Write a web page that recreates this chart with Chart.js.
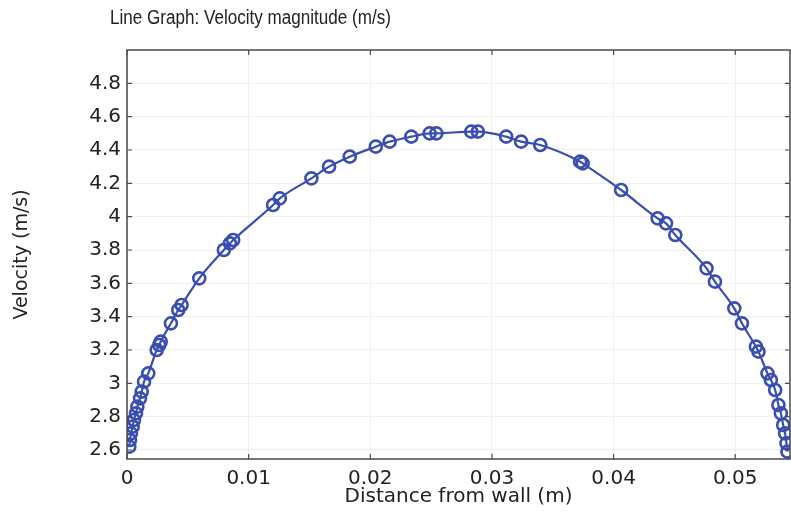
<!DOCTYPE html>
<html>
<head>
<meta charset="utf-8">
<script src="https://cdn.jsdelivr.net/npm/chart.js@4"></script>
<style>
  html, body { margin: 0; padding: 0; background: #fff; }
  #wrap { width: 791px; height: 514px; position: relative; }
</style>
</head>
<body>
<div id="wrap"><canvas id="velChart"></canvas></div>
<script>
// Velocity profile (distance in m, velocity in m/s)
const distance = [
  0.00019, 0.00025, 0.00033, 0.00047, 0.00057, 0.00074, 0.00085, 0.00107, 0.00121, 0.0014,
  0.00175, 0.00244, 0.00265, 0.00277, 0.00361, 0.00421, 0.00449, 0.00594, 0.00796, 0.00846,
  0.00873, 0.01201, 0.01256, 0.01516, 0.01661, 0.01831, 0.02045, 0.02159, 0.02337, 0.02488,
  0.02543, 0.0283, 0.02884, 0.03117, 0.0324, 0.03397, 0.03725, 0.03746, 0.04062, 0.04362,
  0.04431, 0.04507, 0.04764, 0.04833, 0.04992, 0.05055, 0.0517, 0.05191, 0.05265, 0.05293,
  0.05328, 0.05355, 0.05375, 0.05394, 0.0541, 0.05421, 0.05429
]
const velocity = [
  2.62, 2.66, 2.70, 2.74, 2.78, 2.82, 2.86, 2.91, 2.95, 3.01,
  3.06, 3.20, 3.23, 3.25, 3.36, 3.44, 3.47, 3.63, 3.80, 3.84,
  3.86, 4.07, 4.11, 4.23, 4.30, 4.36, 4.42, 4.45, 4.48, 4.50,
  4.50, 4.51, 4.51, 4.48, 4.45, 4.43, 4.33, 4.32, 4.16, 3.99,
  3.96, 3.89, 3.69, 3.61, 3.45, 3.36, 3.22, 3.19, 3.06, 3.02,
  2.96, 2.87, 2.82, 2.75, 2.70, 2.64, 2.59
]
const xTicks = [0, 0.01, 0.02, 0.03, 0.04, 0.05]
const yTicks = [2.6, 2.8, 3, 3.2, 3.4, 3.6, 3.8, 4, 4.2, 4.4, 4.6, 4.8]

const lineBlue = '#3a4db0'
const axisGray = '#4a4a4a'
const textColor = '#222'
const fontFamily = '"DejaVu Sans", Verdana, sans-serif'

// frame round the plot, short inward ticks and the graph title
const framePlugin = {
  id: 'frame',
  afterDraw(chart) {
    const { ctx, chartArea: a, scales } = chart
    ctx.save()
    ctx.strokeStyle = axisGray
    ctx.lineWidth = 1.5
    ctx.strokeRect(a.left, a.top, a.right - a.left, a.bottom - a.top)
    ctx.lineWidth = 1.2
    const len = 5
    scales.x.ticks.forEach(t => {
      const px = scales.x.getPixelForValue(t.value)
      ctx.beginPath()
      ctx.moveTo(px, a.bottom); ctx.lineTo(px, a.bottom - len)
      ctx.moveTo(px, a.top); ctx.lineTo(px, a.top + len)
      ctx.stroke()
    })
    scales.y.ticks.forEach(t => {
      const py = scales.y.getPixelForValue(t.value)
      ctx.beginPath()
      ctx.moveTo(a.left, py); ctx.lineTo(a.left + len, py)
      ctx.moveTo(a.right, py); ctx.lineTo(a.right - len, py)
      ctx.stroke()
    })

    // title, squeezed a little to the width of the original
    const title = 'Line Graph: Velocity magnitude (m/s)'
    ctx.font = '20px "Liberation Sans", Arial, sans-serif'
    ctx.fillStyle = textColor
    ctx.textBaseline = 'middle'
    const w = ctx.measureText(title).width
    ctx.translate(110, 18)
    ctx.scale(281 / w, 1)
    ctx.fillText(title, 0, 0)
    ctx.restore()
  }
}

const fmt = v => String(+Number(v).toFixed(3))

new Chart(document.getElementById('velChart'), {
  type: 'line',
  data: {
    datasets: [{
      label: 'Velocity magnitude',
      data: distance.map((d, i) => ({ x: d, y: velocity[i] })),
      borderColor: lineBlue,
      borderWidth: 2.2,
      cubicInterpolationMode: 'monotone',
      pointStyle: 'circle',
      pointRadius: 6,
      pointBorderWidth: 2.6,
      pointBackgroundColor: 'rgba(0,0,0,0)',
      pointBorderColor: lineBlue,
      fill: false
    }]
  },
  options: {
    responsive: true,
    maintainAspectRatio: false,
    animation: false,
    layout: { autoPadding: false, padding: { left: 0, right: 1, top: 50, bottom: 0 } },
    plugins: {
      legend: { display: false },
      tooltip: { enabled: false }
    },
    scales: {
      x: {
        type: 'linear',
        min: 0,
        max: 0.0545,
        afterBuildTicks: scale => { scale.ticks = xTicks.map(v => ({ value: v })) },
        afterFit: scale => { scale.height = 55 },
        grid: { color: '#efefef', lineWidth: 1, drawTicks: false },
        border: { display: false },
        ticks: {
          padding: 8,
          color: textColor,
          font: { family: fontFamily, size: 20 },
          callback: v => fmt(v),
          maxRotation: 0
        },
        title: {
          display: true,
          text: 'Distance from wall (m)',
          color: textColor,
          font: { family: fontFamily, size: 20 },
          padding: { top: 0, bottom: 5 }
        }
      },
      y: {
        min: 2.546,
        max: 5.0,
        afterBuildTicks: scale => { scale.ticks = yTicks.map(v => ({ value: v })) },
        afterFit: scale => { scale.width = 127 },
        grid: { color: '#efefef', lineWidth: 1, drawTicks: false },
        border: { display: false },
        ticks: {
          padding: 6,
          color: textColor,
          font: { family: fontFamily, size: 20 },
          callback: v => fmt(v)
        },
        title: {
          display: true,
          text: 'Velocity (m/s)',
          color: textColor,
          font: { family: fontFamily, size: 19 },
          padding: { top: 11, bottom: 0 }
        }
      }
    }
  },
  plugins: [framePlugin]
})
</script>
</body>
</html>
